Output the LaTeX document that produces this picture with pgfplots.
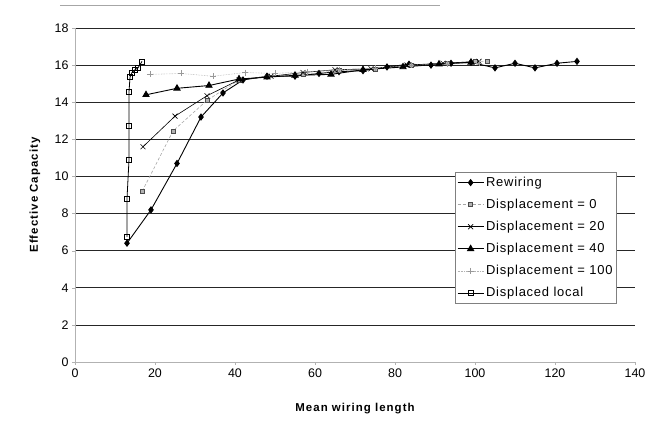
\documentclass[border=0pt]{standalone}
\usepackage{pgfplots}
\pgfplotsset{compat=1.18}
\usepackage{fontspec}
\setmainfont{Liberation Sans}

\begin{document}
\begin{tikzpicture}
\path[use as bounding box] (-75bp,-69bp) rectangle (571bp,362bp);
\draw[gray!70, line width=0.8pt] (-15bp,357bp) -- (365bp,357bp);
\begin{axis}[
scale only axis,
width=560bp, height=334bp,
xmin=0, xmax=140, ymin=0, ymax=18,
xtick={0,20,...,140}, ytick={0,2,...,18},
axis lines*=left,
axis line style={gray!60, line width=0.8pt},
ymajorgrids,
grid style={black!85, line width=0.6pt},
tick align=outside,
major tick length=3bp,
tick style={gray!60},
/pgf/number format/assume math mode=true,
tick label style={font=\fontsize{12.5}{14}\selectfont},
xlabel={\bfseries Mean wiring length},
ylabel={\bfseries Effective Capacity},
label style={font=\fontsize{11.5}{13}\selectfont\addfontfeature{LetterSpace=9}},
xlabel style={at={(axis description cs:0.5,-0.138)}, anchor=center},
ylabel style={at={(axis description cs:-0.0714,0.5)}, anchor=center},
legend style={at={(axis cs:95,10.24)}, anchor=north west, draw=gray,
  fill=white, font=\fontsize{13}{15}\selectfont\addfontfeature{LetterSpace=6},
  row sep=7.2bp, inner xsep=2bp, inner ysep=3bp, cells={anchor=west}},
legend image code/.code={\draw[mark repeat=2,mark phase=2]
  plot coordinates {(0bp,0bp)(13bp,0bp)(26bp,0bp)};},
]
\addplot[black, line width=0.9pt, mark=diamond*, mark size=3bp] coordinates {
(13,6.4)(19,8.2)(25.5,10.7)(31.5,13.2)(37,14.5)(42,15.2)(48,15.4)(55,15.4)
(61,15.55)(66,15.65)(72,15.7)(78,15.9)(83.5,16.05)(89,16.0)(94,16.1)(99,16.15)
(105,15.85)(110,16.1)(115,15.85)(120.5,16.1)(125.5,16.2)};
\addlegendentry{Rewiring}
\addplot[gray!70, densely dashed, line width=0.6pt, mark=square*, mark size=2bp,
  mark options={solid, fill=gray!60, draw=black!70}] coordinates {
(16.8,9.2)(24.5,12.45)(33,14.1)(41,15.2)(48,15.4)(57,15.5)(66,15.7)(75,15.8)
(84,16.0)(93,16.1)(100,16.2)(103,16.2)};
\addlegendentry{Displacement = 0}
\addplot[black, line width=0.6pt, mark=x, mark size=3.5bp] coordinates {
(17,11.6)(25,13.25)(33,14.35)(41,15.2)(49,15.4)(57,15.6)(65,15.75)(74,15.8)
(83,16.0)(92,16.1)(101,16.2)};
\addlegendentry{Displacement = 20}
\addplot[black, line width=0.9pt, mark=triangle*, mark size=3.5bp] coordinates {
(17.75,14.4)(25.5,14.75)(33.5,14.9)(41,15.25)(48,15.35)(55,15.45)(64,15.5)
(72,15.75)(82,15.9)(91,16.05)(99,16.15)};
\addlegendentry{Displacement = 40}
\addplot[gray!60, densely dotted, line width=0.6pt, mark=+, mark size=3bp,
  mark options={solid, gray!80}] coordinates {
(18.75,15.5)(26.5,15.55)(34.5,15.4)(42.5,15.6)(50,15.55)(58,15.65)(66,15.75)
(75,15.85)(84,16.0)(93,16.05)(101,16.1)};
\addlegendentry{Displacement = 100}
\addplot[black, line width=0.8pt, mark=square, mark size=2.5bp,
  mark options={fill=white}] coordinates {
(13,6.75)(13,8.8)(13.5,10.9)(13.5,12.7)(13.5,14.55)(13.75,15.35)(14.25,15.6)
(15,15.75)(15.75,15.85)(16.75,16.2)};
\addlegendentry{Displaced local}
\end{axis}
\end{tikzpicture}
\end{document}
